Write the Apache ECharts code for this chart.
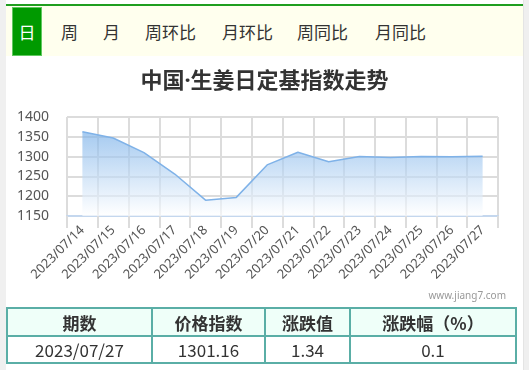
<!DOCTYPE html>
<html><head><meta charset="utf-8">
<script src="https://cdn.jsdelivr.net/npm/echarts@6/dist/echarts.min.js"></script>
<style>
html,body{margin:0;padding:0;width:529px;height:370px;overflow:hidden;background:#fff;font-family:"Noto Sans CJK SC","Noto Sans",sans-serif;}
#lstrip{position:absolute;left:0;top:0;width:6px;height:370px;background:#f0f0f0;}
#rstrip{position:absolute;left:523px;top:0;width:6px;height:370px;background:#efefef;border-left:1px solid #e4e4e4;box-sizing:border-box;}
#topline{position:absolute;left:6px;top:4px;width:517px;height:2px;background:#1f9e1f;}
#tabbar{position:absolute;left:6px;top:6px;width:517px;height:50px;background:#ffffee;}
#active{position:absolute;left:12px;top:7px;width:30px;height:49px;background:#009a00;box-sizing:border-box;border:1px solid #60c860;color:#fff;font-size:17px;line-height:47px;text-align:center;}
.tab{position:absolute;top:7px;height:49px;line-height:49px;font-size:17px;color:#333;white-space:nowrap;}
#chart{position:absolute;left:0;top:0;width:529px;height:370px;}
table{position:absolute;left:6px;top:307px;width:511px;border-collapse:collapse;}
td,th{border:2px solid #5aaea6;text-align:center;color:#333;padding:0;}
th{background:#effff9;font-weight:bold;font-size:17px;height:26px;}
td{font-size:17px;height:22px;}
</style></head>
<body>
<div id="chart"></div>
<div id="lstrip"></div><div id="rstrip"></div>
<div id="tabbar"></div><div id="topline"></div>
<div id="active">日</div>
<div class="tab" style="left:61px">周</div>
<div class="tab" style="left:103px">月</div>
<div class="tab" style="left:145px">周环比</div>
<div class="tab" style="left:222px">月环比</div>
<div class="tab" style="left:297px">周同比</div>
<div class="tab" style="left:375px">月同比</div>
<table>
<tr><th style="width:143px">期数</th><th style="width:111px">价格指数</th><th style="width:83px">涨跌值</th><th>涨跌幅（%）</th></tr>
<tr><td id="c0"></td><td id="c1"></td><td id="c2"></td><td id="c3"></td></tr>
</table>
<script>
var dates = ["2023/07/14","2023/07/15","2023/07/16","2023/07/17","2023/07/18","2023/07/19","2023/07/20","2023/07/21","2023/07/22","2023/07/23","2023/07/24","2023/07/25","2023/07/26","2023/07/27"];
var values = [1363, 1347, 1310, 1256, 1190, 1197, 1279, 1311, 1287, 1300, 1298, 1300.5, 1299.82, 1301.16];
var yTicks = [1150, 1200, 1250, 1300, 1350, 1400];
var tableRow = ["2023/07/27", "1301.16", "1.34", "0.1"];

for (var i = 0; i < tableRow.length; i++) document.getElementById('c' + i).textContent = tableRow[i];

var chart = echarts.init(document.getElementById('chart'));
chart.setOption({
  animation: false,
  textStyle: {fontFamily: '"Noto Sans","Noto Sans CJK SC",sans-serif'},
  title: {text: '中国·生姜日定基指数走势', left: 'center', top: 66,
    textStyle: {fontSize: 22, fontWeight: 'bold', color: '#333', fontFamily: '"Noto Sans","Noto Sans CJK SC",sans-serif'}},
  graphic: [{type: 'text', right: 23, top: 291,
    style: {text: 'www.jiang7.com', fontSize: 10, fill: '#999', fontFamily: 'Noto Sans'}}],
  grid: {left: 67, right: 31, top: 117, bottom: 154},
  xAxis: {type: 'category', data: dates, boundaryGap: true,
    axisLine: {lineStyle: {color: '#c4d7ee', width: 2}},
    axisTick: {show: true, length: 12, lineStyle: {color: '#dcdcdc', width: 2}},
    splitLine: {show: true, lineStyle: {color: '#dcdcdc', width: 2}},
    axisLabel: {rotate: 45, interval: 0, fontSize: 13, color: '#555', margin: 12}},
  yAxis: {type: 'value', min: yTicks[0], max: yTicks[yTicks.length - 1], interval: 50,
    axisLine: {show: false}, axisTick: {show: false},
    splitLine: {lineStyle: {color: '#dcdcdc', width: 2}},
    axisLabel: {fontSize: 14, color: '#555', margin: 18, formatter: function (v) { return String(v); }}},
  series: [{type: 'line', data: values, symbol: 'none', smooth: false,
    lineStyle: {color: '#7fb2e8', width: 1.5},
    areaStyle: {color: new echarts.graphic.LinearGradient(0, 0, 0, 1, [
      {offset: 0, color: 'rgba(120,175,232,0.95)'},
      {offset: 1, color: 'rgba(255,255,255,0.95)'}])}}]
});
</script>
</body></html>
